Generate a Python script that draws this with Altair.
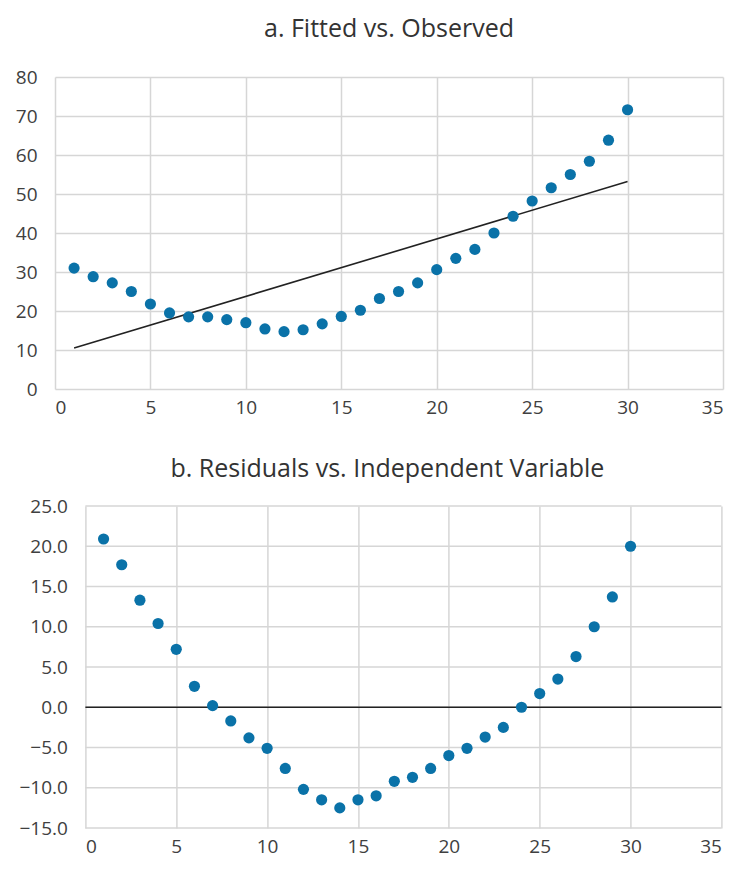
import altair as alt
import pandas as pd

# Independent variable
x_vals = list(range(1, 31))

# Panel a: observed values
observed = [31.0, 28.8, 27.2, 25.0, 21.8, 19.5, 18.5, 18.5, 17.8, 17.0,
            15.4, 14.7, 15.2, 16.7, 18.6, 20.2, 23.2, 25.0, 27.2, 30.6,
            33.5, 35.8, 40.0, 44.3, 48.2, 51.6, 55.0, 58.4, 63.8, 71.6]

# Panel a: fitted line end points
fit_x = [1, 30]
fit_y = [10.5, 53.2]

# Panel b: residuals
residuals = [20.9, 17.7, 13.3, 10.4, 7.2, 2.6, 0.2, -1.7, -3.8, -5.1,
             -7.6, -10.2, -11.5, -12.5, -11.5, -11.0, -9.2, -8.7, -7.6, -6.0,
             -5.1, -3.7, -2.5, 0.0, 1.7, 3.5, 6.3, 10.0, 13.7, 20.0]

# Zero reference line for panel b
zero_x = [0, 35]
zero_y = [0, 0]

x_ticks = [0, 5, 10, 15, 20, 25, 30, 35]
ya_ticks = [0, 10, 20, 30, 40, 50, 60, 70, 80]
yb_ticks = [-15, -10, -5, 0, 5, 10, 15, 20, 25]

obs_df = pd.DataFrame({"x": x_vals, "y": observed})
fit_df = pd.DataFrame({"x": fit_x, "y": fit_y})
res_df = pd.DataFrame({"x": x_vals, "y": residuals})
zero_df = pd.DataFrame({"x": zero_x, "y": zero_y})
gridb_df = pd.DataFrame({"y": yb_ticks, "x": [x_ticks[0]] * len(yb_ticks),
                         "x2": [x_ticks[-1]] * len(yb_ticks)})

BLUE = "#0a72a8"
FONT = "Open Sans"
LABEL_COLOR = "#404040"
GRID = "#d6d6d6"

TOP_W, TOP_H = 668, 312
BOT_W, BOT_H, BOT_SHIFT = 636, 322, 32

xa = alt.X("x:Q", scale=alt.Scale(domain=[0, 35], nice=False),
           axis=alt.Axis(values=x_ticks, title=None, ticks=False, domain=False,
                         labelPadding=9, grid=True))
ya = alt.Y("y:Q", scale=alt.Scale(domain=[0, 80], nice=False),
           axis=alt.Axis(values=ya_ticks, title=None, ticks=False, domain=False,
                         labelPadding=18, grid=True))

pts_a = alt.Chart(obs_df).mark_circle(size=125, opacity=1, color=BLUE).encode(x=xa, y=ya)
line_a = alt.Chart(fit_df).mark_line(color="#222222", strokeWidth=1.6).encode(x=xa, y=ya)

top = alt.layer(line_a, pts_a).properties(
    width=TOP_W, height=TOP_H,
    title=alt.Title("a. Fitted vs. Observed", fontSize=25, font=FONT,
                    fontWeight="normal", color="#333333", offset=26)
)

xb = alt.X("x:Q", scale=alt.Scale(domain=[0, 35], nice=False,
                                  range=[BOT_SHIFT, BOT_SHIFT + BOT_W]),
           axis=alt.Axis(values=x_ticks, title=None, ticks=False, domain=False,
                         labelPadding=9, grid=True))
yb = alt.Y("y:Q", scale=alt.Scale(domain=[-15, 25], nice=False),
           axis=alt.Axis(values=yb_ticks, title=None, ticks=False, domain=False,
                         format=".1f", labelPadding=18, grid=False, offset=-BOT_SHIFT))

grid_b = alt.Chart(gridb_df).mark_rule(color=GRID, strokeWidth=1.5).encode(
    x=xb, x2="x2:Q", y=yb)
zero_b = alt.Chart(zero_df).mark_line(color="#222222", strokeWidth=1.6).encode(x=xb, y=yb)
pts_b = alt.Chart(res_df).mark_circle(size=125, opacity=1, color=BLUE).encode(x=xb, y=yb)

bottom = alt.layer(grid_b, zero_b, pts_b).properties(
    width=BOT_W + BOT_SHIFT, height=BOT_H,
    title=alt.Title("b. Residuals vs. Independent Variable", fontSize=25, font=FONT,
                    fontWeight="normal", color="#333333", offset=15)
)

chart = alt.vconcat(top, bottom, spacing=40, center=True).configure_view(
    strokeWidth=0
).configure_axis(
    labelFont=FONT, labelFontSize=19, labelColor=LABEL_COLOR,
    gridColor=GRID, gridWidth=1.5
).properties(padding={"left": 7, "right": 0, "top": 9, "bottom": 2})

chart.save("out.html", embed_options={"renderer": "svg", "actions": False})
